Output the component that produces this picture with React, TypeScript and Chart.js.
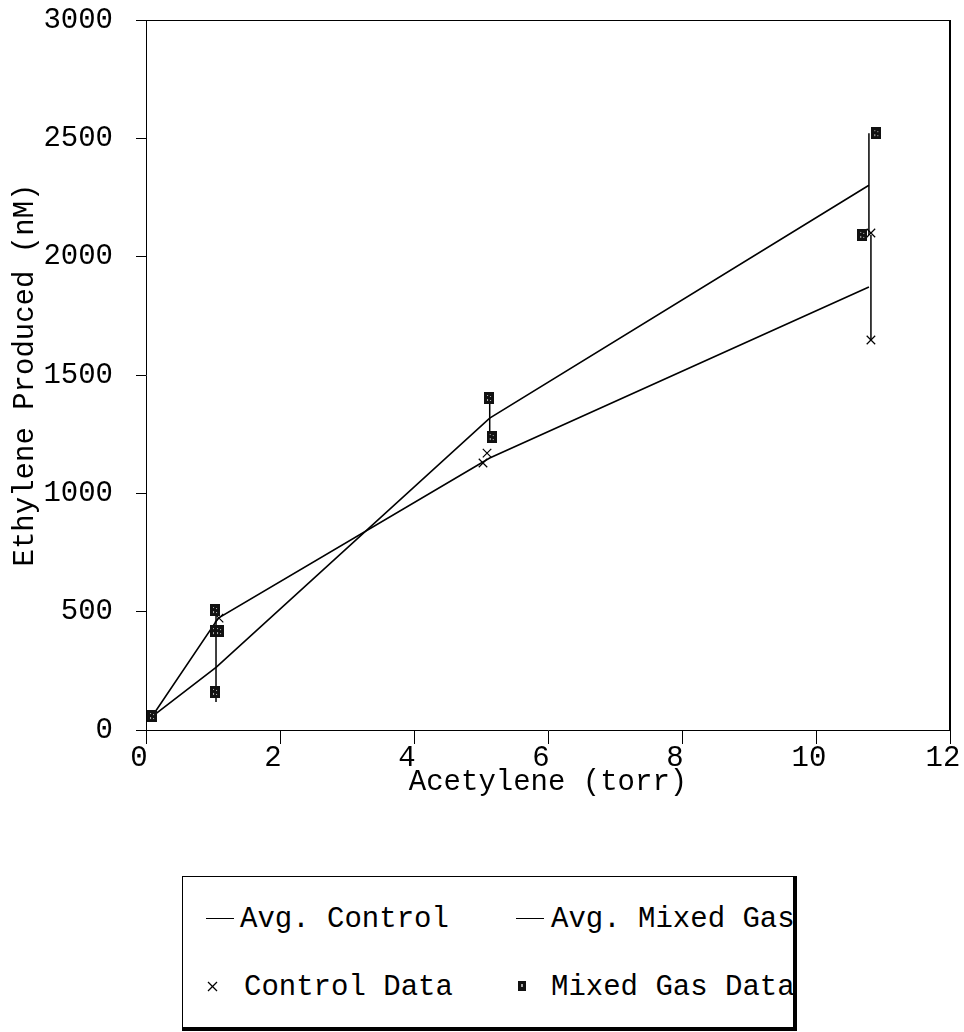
import React, { useEffect, useRef } from "react";
import { Chart, registerables } from "chart.js";

Chart.register(...registerables);

const FONT = "'Liberation Mono', 'DejaVu Sans Mono', monospace";

// Averages (lines)
const avgControlX = [0.09, 1.08, 5.13, 10.79];
const avgControlY = [57, 473, 1149, 1872];
const avgMixedX = [0.09, 1.05, 5.13, 10.79];
const avgMixedY = [57, 266, 1318, 2302];

// Raw data points
const controlDataX = [1.09, 5.09, 5.03, 10.82, 10.82];
const controlDataY = [473, 1170, 1128, 2100, 1648];
const mixedDataX = [0.09, 1.03, 1.03, 1.09, 1.03, 5.12, 5.16, 10.9, 10.69];
const mixedDataY = [59, 507, 418, 418, 161, 1403, 1238, 2522, 2092];

// Error bars (vertical ranges)
const errX = [1.045, 5.13, 10.79, 10.82];
const errLow = [118, 1238, 2092, 1648];
const errHigh = [507, 1403, 2522, 2092];

// Axis ticks
const xTicks = [0, 2, 4, 6, 8, 10, 12];
const yTicks = [0, 500, 1000, 1500, 2000, 2500, 3000];

const toXY = (xs: number[], ys: number[]) => xs.map((x, i) => ({ x, y: ys[i] }));

function makeSquare(): HTMLCanvasElement {
  const c = document.createElement("canvas");
  c.width = 10;
  c.height = 12;
  const g = c.getContext("2d")!;
  g.fillStyle = "#111";
  g.fillRect(0, 0, 10, 12);
  g.fillStyle = "#bbb";
  g.fillRect(3, 3, 1, 1);
  g.fillRect(6, 4, 1, 1);
  g.fillRect(3, 7, 1, 2);
  g.fillRect(6, 8, 1, 1);
  return c;
}

const framePlugin = {
  id: "frame",
  afterDraw(chart: any) {
    const { ctx, chartArea } = chart;
    ctx.save();
    ctx.strokeStyle = "#000";
    ctx.lineWidth = 1;
    ctx.beginPath();
    ctx.moveTo(chartArea.left, chartArea.top + 0.5);
    ctx.lineTo(chartArea.right, chartArea.top + 0.5);
    ctx.stroke();
    ctx.lineWidth = 2;
    ctx.beginPath();
    ctx.moveTo(chartArea.right, chartArea.top);
    ctx.lineTo(chartArea.right, chartArea.bottom);
    ctx.stroke();
    ctx.restore();
  },
};

const errorBarPlugin = {
  id: "errorBars",
  beforeDatasetsDraw(chart: any) {
    const { ctx } = chart;
    const xs = chart.scales.x;
    const ys = chart.scales.y;
    ctx.save();
    ctx.strokeStyle = "#000";
    ctx.lineWidth = 1.5;
    for (let i = 0; i < errX.length; i++) {
      const px = xs.getPixelForValue(errX[i]);
      ctx.beginPath();
      ctx.moveTo(px, ys.getPixelForValue(errLow[i]));
      ctx.lineTo(px, ys.getPixelForValue(errHigh[i]));
      ctx.stroke();
    }
    ctx.restore();
  },
};

export default function App() {
  const ref = useRef<HTMLCanvasElement>(null);

  useEffect(() => {
    const square = makeSquare();
    const chart = new Chart(ref.current!, {
      type: "scatter",
      data: {
        datasets: [
          {
            label: "Mixed Gas Data",
            data: toXY(mixedDataX, mixedDataY),
            pointStyle: square as any,
            pointRadius: 6,
            showLine: false,
          },
          {
            label: "Control Data",
            data: toXY(controlDataX, controlDataY),
            pointStyle: "crossRot",
            pointRadius: 6,
            borderColor: "#000",
            borderWidth: 1.2,
            showLine: false,
          },
          {
            label: "Avg. Control",
            data: toXY(avgControlX, avgControlY),
            showLine: true,
            borderColor: "#000",
            borderWidth: 1.6,
            pointRadius: 0,
            tension: 0,
          },
          {
            label: "Avg. Mixed Gas",
            data: toXY(avgMixedX, avgMixedY),
            showLine: true,
            borderColor: "#000",
            borderWidth: 1.6,
            pointRadius: 0,
            tension: 0,
          },
        ],
      },
      options: {
        responsive: false,
        maintainAspectRatio: false,
        animation: false,
        layout: { padding: { top: 20, right: 14, left: 0, bottom: 0 } },
        plugins: { legend: { display: false }, tooltip: { enabled: false } },
        scales: {
          x: {
            type: "linear",
            min: 0,
            max: 12,
            afterBuildTicks(s: any) {
              s.ticks = xTicks.map((v) => ({ value: v }));
            },
            ticks: {
              color: "#000",
              font: { family: FONT, size: 29, lineHeight: 1 },
              padding: 0,
              labelOffset: -7,
              maxRotation: 0,
              autoSkip: false,
              callback: (v: any) => String(v),
            },
            grid: { drawOnChartArea: false, tickLength: 14, color: "#000" },
            border: { color: "#000", width: 1 },
            title: {
              display: true,
              text: "Acetylene (torr)",
              color: "#000",
              font: { family: FONT, size: 29 },
              padding: { top: 0, bottom: 0 },
            },
            afterFit(s: any) {
              s.height = 70;
              s.paddingLeft = 0;
              s.paddingRight = 0;
            },
          },
          y: {
            type: "linear",
            min: 0,
            max: 3000,
            afterBuildTicks(s: any) {
              s.ticks = yTicks.map((v) => ({ value: v }));
            },
            ticks: {
              color: "#000",
              font: { family: FONT, size: 29 },
              padding: 23,
              autoSkip: false,
              callback: (v: any) => String(v),
            },
            grid: { drawOnChartArea: false, tickLength: 10, color: "#000" },
            border: { color: "#000", width: 1 },
            title: {
              display: true,
              text: "Ethylene Produced (nM)",
              color: "#000",
              font: { family: FONT, size: 29 },
              padding: { top: 8, bottom: 0 },
            },
            afterFit(s: any) {
              s.width = 146;
              s.paddingTop = 0;
              s.paddingBottom = 0;
            },
          },
        },
      } as any,
      plugins: [framePlugin, errorBarPlugin],
    });
    return () => chart.destroy();
  }, []);

  const textStyle: React.CSSProperties = {
    position: "absolute",
    fontFamily: FONT,
    fontSize: 29,
    lineHeight: "29px",
    color: "#000",
    whiteSpace: "nowrap",
  };
  const LX = 182;
  const LY = 876;
  const row1 = 917 - LY;
  const row2 = 985 - LY;

  return (
    <div
      style={{
        position: "fixed",
        left: 0,
        top: 0,
        width: 964,
        height: 1032,
        background: "#fff",
        overflow: "hidden",
      }}
    >
      <canvas ref={ref} width={964} height={800} style={{ display: "block" }} />
      <div
        style={{
          position: "absolute",
          left: LX,
          top: LY,
          width: 615,
          height: 155,
          boxSizing: "border-box",
          borderTop: "1px solid #000",
          borderLeft: "1px solid #000",
          borderRight: "4px solid #000",
          borderBottom: "4px solid #000",
        }}
      >
        <div style={{ position: "absolute", left: 205 - LX, top: row1, width: 28, height: 0, borderTop: "1.5px solid #000" }} />
        <div style={{ ...textStyle, left: 239 - LX, top: row1 - 13 }}>Avg. Control</div>
        <div style={{ position: "absolute", left: 515 - LX, top: row1, width: 28, height: 0, borderTop: "1.5px solid #000" }} />
        <div style={{ ...textStyle, left: 550 - LX, top: row1 - 13 }}>Avg. Mixed Gas</div>
        <svg
          style={{ position: "absolute", left: 206 - LX, top: row2 - 5 }}
          width={11}
          height={11}
        >
          <line x1={1} y1={1} x2={10} y2={10} stroke="#000" strokeWidth={1.2} />
          <line x1={10} y1={1} x2={1} y2={10} stroke="#000" strokeWidth={1.2} />
        </svg>
        <div style={{ ...textStyle, left: 243 - LX, top: row2 - 13 }}>Control Data</div>
        <div
          style={{
            position: "absolute",
            left: 517 - LX,
            top: row2 - 5,
            width: 8,
            height: 10,
            background: "#111",
          }}
        >
          <div style={{ position: "absolute", left: 3, top: 3, width: 2, height: 3, background: "#aaa" }} />
        </div>
        <div style={{ ...textStyle, left: 550 - LX, top: row2 - 13 }}>Mixed Gas Data</div>
      </div>
    </div>
  );
}
